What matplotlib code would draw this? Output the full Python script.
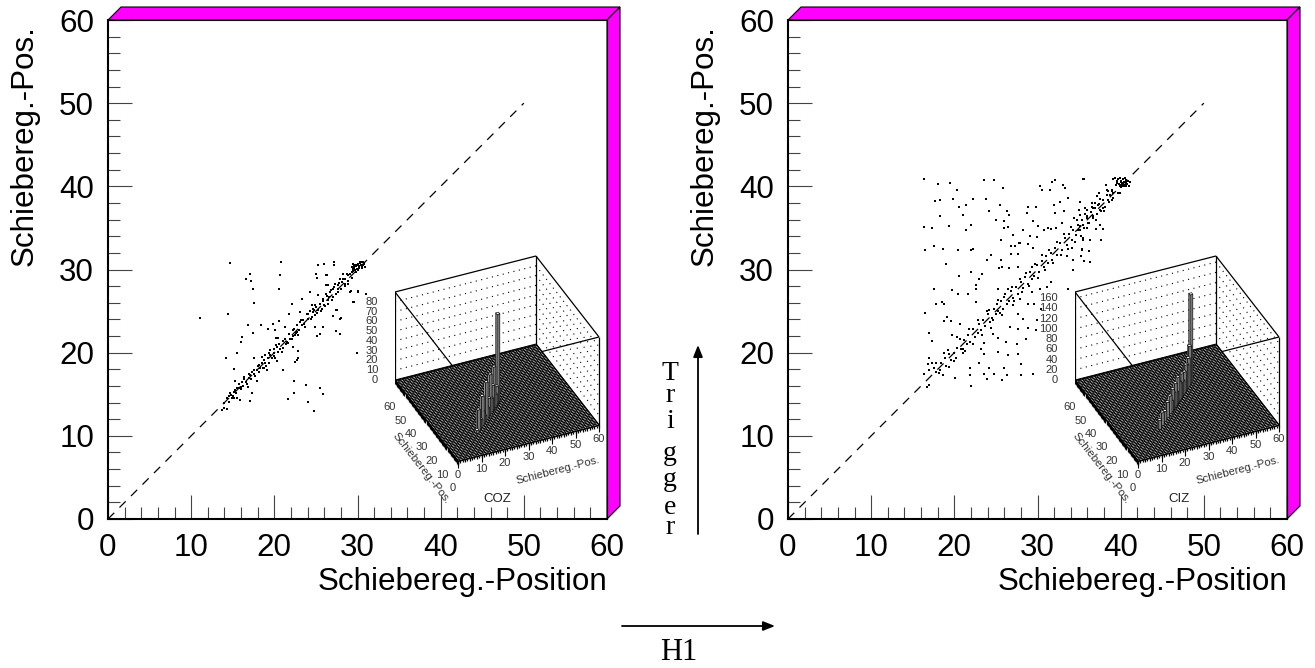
import numpy as np
import matplotlib
matplotlib.use('Agg')
import matplotlib.pyplot as plt
from matplotlib.collections import LineCollection, PolyCollection
from matplotlib.patches import FancyArrowPatch

plt.rcParams['font.family'] = ['Liberation Sans', 'DejaVu Sans']

W, H = 1315, 668

# Points (COZ)
coz_x = [14.7, 20.8, 25.2, 26.0, 27.2, 27.2, 17.1, 20.7, 16.6, 17.2, 17.4, 20.6, 25.0, 25.1, 26.2, 17.5, 22.1, 24.3,
         11.1, 14.4, 21.8, 16.8, 17.4, 18.4, 19.2, 19.8, 20.6, 20.1, 16.1, 16.0, 20.2, 20.5, 21.3, 14.2, 15.5, 17.5,
         15.1, 21.1, 22.8, 22.7, 22.4, 23.8, 25.5, 22.4, 25.9, 21.6, 24.1, 24.8, 29.9, 27.4, 27.9, 25.5, 25.1, 24.9,
         25.9, 27.1, 28.0, 29.6, 27.5, 29.2, 30.1, 31.0, 22.3,
         13.7, 14.3, 14.0, 13.9, 14.3, 14.6, 14.9, 14.8, 15.2, 15.5, 15.9, 15.1, 15.3, 15.7, 16.0, 15.5, 15.3, 16.1,
         16.3, 16.6, 16.9, 17.1, 17.3, 17.6, 17.9, 18.3, 18.5, 18.9, 19.3, 18.8, 19.1, 18.1, 18.5, 18.9, 19.5, 19.9,
         20.1, 20.3, 19.3, 19.5, 20.3, 20.7, 20.9, 20.2, 21.5, 21.9, 22.5, 22.7, 22.9, 21.3, 15.2, 22.9, 22.5, 17.1,
         17.3, 17.9, 16.8,
         22.3, 22.7, 23.1, 23.3, 23.7, 23.1, 24.1, 24.5, 24.9, 24.7, 25.3, 25.7, 24.5, 24.9, 26.1, 25.9, 26.5, 26.9,
         26.2, 26.7, 27.1, 26.5, 27.3, 27.7, 27.6, 28.1, 28.5, 28.9, 28.2, 28.9, 28.5, 27.9, 29.3, 29.5, 29.7, 30.1,
         30.5, 30.9, 29.9, 30.3, 30.7, 29.5, 30.1, 29.3, 25.3, 24.3, 23.3, 26.3, 26.2, 29.1, 30.1, 29.5, 27.9, 27.4,
         30.4, 30.2, 30.6, 30.8, 30.0, 29.8, 30.3, 30.5, 30.7, 29.6, 30.2, 30.4,
         14.5, 14.7, 15.0, 15.4, 15.8, 16.0, 16.2, 16.4, 16.7, 16.9, 17.2, 17.5, 17.7, 18.0, 18.2, 18.6, 18.7, 19.0,
         19.2, 19.7, 20.0, 20.0, 20.5, 20.6, 21.0, 21.1, 21.4, 21.7, 21.8, 22.1, 22.3, 22.4, 22.6, 23.0, 23.2, 23.4,
         23.6, 23.9, 24.0, 24.3, 24.4, 24.6, 24.8, 25.0, 25.1, 25.5, 25.6, 25.8, 26.0, 26.3, 26.4, 26.6, 26.8, 27.0,
         27.2, 27.4, 27.6, 27.8, 28.0, 28.3, 28.5, 28.7, 28.9, 29.1, 29.3, 29.5, 29.7, 29.9, 29.4, 29.6, 29.8]
coz_y = [30.8, 30.95, 30.5, 30.7, 30.9, 30.5, 29.5, 29.3, 28.9, 28.6, 27.7, 27.7, 29.5, 29.0, 29.3, 26.0, 25.9, 27.3,
         24.2, 24.6, 24.7, 23.3, 22.4, 23.3, 22.8, 23.5, 23.8, 22.7, 21.9, 21.3, 21.8, 21.8, 23.1, 19.3, 19.9, 19.3,
         18.0, 17.9, 19.4, 19.1, 16.6, 16.1, 15.8, 15.2, 15.0, 14.4, 14.1, 13.0, 19.9, 22.6, 22.3, 22.2, 22.0, 23.1,
         23.1, 24.4, 24.2, 26.1, 25.1, 27.4, 27.4, 27.1, 20.7,
         13.1, 13.2, 13.3, 13.9, 14.5, 14.8, 14.5, 14.9, 14.5, 14.5, 14.3, 15.3, 15.5, 15.7, 15.9, 15.8, 16.6, 16.5,
         17.1, 16.5, 16.9, 17.3, 17.7, 17.4, 17.9, 18.1, 18.7, 18.8, 18.7, 18.1, 17.9, 18.5, 19.5, 19.7, 19.7, 19.9,
         19.3, 19.0, 19.9, 20.3, 20.7, 20.5, 20.1, 20.9, 21.3, 21.7, 22.1, 22.5, 22.1, 21.7, 18.0, 20.2, 18.9, 14.2,
         15.1, 16.6, 15.9,
         22.7, 23.3, 23.7, 23.3, 23.1, 24.9, 24.7, 24.3, 24.5, 25.3, 25.1, 25.3, 25.7, 25.7, 25.6, 26.5, 26.3, 26.3,
         27.1, 27.3, 27.6, 28.1, 28.3, 27.3, 28.1, 28.5, 28.0, 28.3, 29.5, 29.3, 28.8, 28.8, 29.7, 30.1, 30.5, 30.7,
         30.5, 30.3, 30.1, 30.9, 30.9, 30.7, 29.9, 30.3, 26.9, 27.3, 26.5, 29.3, 28.1, 27.3, 27.3, 26.1, 24.1, 25.1,
         30.6, 30.4, 30.2, 30.7, 30.6, 30.4, 30.8, 30.3, 30.5, 30.2, 30.2, 30.9,
         14.1, 15.2, 14.8, 15.1, 16.2, 15.6, 16.0, 16.8, 16.2, 17.4, 16.8, 17.9, 17.2, 18.4, 17.7, 18.2, 19.1, 18.4,
         19.3, 19.4, 20.4, 19.6, 20.1, 21.0, 20.6, 21.4, 21.0, 21.2, 22.3, 21.6, 22.0, 22.9, 22.4, 22.7, 23.9, 23.9,
         23.4, 24.6, 24.0, 25.0, 24.1, 24.9, 25.1, 25.5, 24.8, 25.9, 25.0, 26.2, 25.7, 26.8, 25.9, 26.7, 27.5, 26.7,
         27.9, 27.0, 27.7, 28.4, 27.7, 28.8, 28.2, 29.4, 28.6, 29.5, 29.0, 29.8, 30.0, 30.6, 30.0, 30.4, 29.7]

# Points (CIZ)
ciz_x = [16.3, 18.0, 19.5, 20.3, 23.6, 24.8, 25.8, 30.3, 30.5, 31.5, 31.7, 32.1, 33.1, 33.3, 35.5, 17.7, 18.3, 19.8,
         22.3, 23.8, 21.4, 20.6, 25.5, 21.0, 18.3, 24.2, 26.3, 26.6, 28.8, 28.7, 29.8, 32.0, 32.7, 33.7, 32.1, 33.2,
         25.0, 26.0, 29.5, 16.3, 17.3, 19.4, 21.4, 22.0, 26.0, 26.4, 28.2, 30.1, 30.8, 31.3, 31.6, 32.2, 32.9, 27.1,
         25.6, 29.1, 29.9, 27.9, 16.5, 17.5, 18.6, 20.5, 22.0, 22.3, 26.8, 27.3, 27.8, 28.8, 29.4, 26.8, 27.6, 24.4,
         23.9, 25.6, 19.0, 22.0, 20.6, 23.3, 23.0, 22.6, 22.6, 25.3, 25.4, 25.7, 26.6, 27.7, 29.3, 17.6, 19.7, 20.4,
         21.6, 22.6, 17.8, 18.5, 18.8, 16.5, 19.1, 18.7, 19.6, 20.7, 16.9, 17.3, 19.7, 20.3, 21.0, 21.3, 17.0, 16.8,
         17.3, 16.3, 17.8, 18.6, 20.1, 22.0, 16.9, 16.7, 21.9, 21.9, 23.0, 24.2, 23.6, 23.9, 24.8, 26.0, 26.3, 25.7,
         28.0, 28.0, 29.5, 23.2, 23.6, 25.3, 26.5, 27.6, 23.6, 24.7, 25.3, 26.2, 27.5, 28.6, 26.7, 27.7, 28.9, 29.8,
         28.3, 29.9, 27.7, 28.8, 29.6, 30.4, 29.3, 27.9, 31.1, 31.6, 30.3, 33.5, 34.3, 35.3, 35.5, 34.3, 33.7,
         17.8, 17.0, 18.1, 18.4, 18.9, 19.0, 19.4, 19.6, 19.9, 20.2, 20.3, 20.8, 21.2, 21.5, 21.6, 21.9, 22.3, 22.5,
         22.8, 23.0, 23.2, 23.5, 23.7, 24.0, 24.3, 24.5, 24.8, 25.0, 25.3, 25.6, 25.8, 26.0, 26.3, 26.6, 26.8, 27.1,
         27.4, 27.7, 28.0, 28.3, 28.5, 28.8, 29.1, 29.3, 29.6, 29.9, 30.2, 30.5, 30.8, 31.0, 31.3, 31.6, 31.8, 32.1,
         32.4, 32.7, 33.0, 33.3, 33.5, 33.8, 34.1, 34.3, 34.6, 34.9, 35.1, 35.3, 35.6, 35.9, 36.2, 36.4, 36.7, 36.9,
         37.1, 37.4, 37.6, 37.9, 38.1, 38.4, 38.6, 38.9, 39.1,
         35.6, 38.2, 38.4, 38.9, 39.1, 39.7, 39.9, 38.7, 38.5, 38.9, 37.1, 37.4, 36.9, 36.5, 37.3, 36.7, 37.5, 37.9,
         35.1, 35.7, 35.9, 35.0, 34.4, 35.1, 35.3, 35.9, 36.1, 35.1, 35.5, 37.0, 37.9, 37.5, 36.7, 34.3, 34.9, 35.5,
         36.3, 37.6, 34.2, 35.3, 36.2, 35.2, 34.3, 35.6, 36.3,
         39.1, 39.3, 39.5, 39.7, 39.9, 40.1, 40.3, 40.5, 40.7, 40.9, 41.1, 39.4, 39.6, 39.8, 40.0, 40.2, 40.4, 40.6,
         40.8, 41.0, 40.3, 40.5, 40.1, 40.7, 40.2, 39.9, 40.6, 40.4, 40.0, 40.8,
         24.2, 25.1, 24.6, 26.1, 25.5, 26.9, 27.2, 27.9, 28.1, 28.6, 29.0, 29.7, 30.0, 30.6, 30.9, 31.4, 31.9, 32.3,
         32.8, 33.2, 33.7, 34.0, 34.5, 34.8, 35.2, 35.7, 36.0, 36.5, 37.0, 37.5, 38.0, 38.5, 19.2, 20.0, 20.7, 21.1,
         21.8, 22.2, 22.9, 23.3, 23.9, 24.4, 25.2, 25.7, 26.5, 27.0, 17.6, 18.3, 18.7, 19.3]
ciz_y = [40.9, 40.3, 40.4, 39.6, 40.8, 40.8, 39.8, 40.0, 39.6, 39.5, 40.5, 40.8, 40.2, 39.8, 40.9, 38.2, 38.4, 38.5,
         38.5, 38.5, 37.8, 37.5, 37.8, 36.5, 36.4, 37.0, 37.0, 36.6, 37.5, 36.8, 37.5, 37.8, 38.1, 38.6, 36.8, 37.0,
         36.0, 35.8, 35.8, 35.1, 35.0, 35.2, 34.8, 35.4, 35.0, 35.1, 34.7, 35.2, 34.7, 35.0, 34.9, 35.0, 35.6, 34.2,
         33.6, 34.0, 33.9, 33.2, 32.4, 32.8, 32.5, 32.4, 32.4, 32.5, 32.8, 32.8, 33.2, 33.1, 32.6, 31.9, 31.9, 31.8,
         31.2, 31.2, 30.7, 29.7, 29.2, 29.4, 28.9, 28.1, 27.6, 27.6, 30.2, 30.3, 30.2, 30.3, 30.3, 27.6, 27.5, 27.0,
         27.1, 26.1, 25.9, 26.1, 25.8, 24.8, 24.3, 23.8, 23.8, 23.5, 22.4, 21.4, 22.1, 21.9, 20.4, 20.2, 19.4, 18.6,
         18.7, 17.4, 17.7, 17.3, 17.0, 16.0, 16.1, 15.9, 18.2, 17.3, 18.8, 18.2, 17.4, 16.8, 17.4, 18.2, 17.3, 16.7,
         18.6, 17.3, 17.4, 20.4, 19.8, 20.1, 19.7, 19.8, 21.2, 22.3, 21.8, 21.3, 21.1, 21.6, 23.1, 22.9, 23.0, 22.7,
         24.0, 23.9, 24.7, 25.9, 25.9, 25.2, 27.3, 26.4, 27.9, 28.5, 27.6, 31.6, 31.2, 32.4, 33.6, 30.0, 27.7,
         18.8, 17.9, 17.5, 18.7, 19.3, 18.4, 19.8, 19.1, 20.0, 19.4, 20.6, 20.4, 21.5, 21.1, 22.1, 21.3, 22.8, 21.9,
         22.4, 23.5, 22.7, 23.9, 23.2, 24.6, 23.7, 24.2, 25.3, 24.6, 25.0, 26.2, 25.2, 26.7, 25.8, 26.2, 27.4, 26.6,
         27.9, 27.1, 28.5, 27.8, 29.1, 28.3, 29.7, 28.8, 29.2, 30.5, 29.7, 31.0, 30.3, 31.6, 30.8, 32.0, 31.2, 32.6,
         31.8, 33.2, 32.4, 33.8, 33.0, 34.3, 33.6, 34.8, 34.1, 35.4, 34.7, 35.9, 35.0, 36.4, 35.6, 36.9, 36.2, 37.4,
         36.7, 37.9, 37.0, 38.4, 37.5, 38.9, 38.1, 39.4, 38.6,
         40.9, 40.2, 39.6, 39.6, 39.2, 39.2, 39.2, 39.0, 38.4, 38.4, 38.8, 39.2, 38.0, 38.0, 37.8, 37.4, 37.2, 37.4,
         38.1, 37.4, 37.2, 37.1, 36.2, 36.6, 36.0, 36.2, 35.6, 35.2, 35.4, 34.9, 34.9, 35.4, 36.4, 34.8, 34.8, 33.8,
         33.6, 33.6, 32.6, 32.5, 32.2, 31.6, 31.2, 31.0, 30.9,
         40.9, 41.0, 40.6, 40.9, 41.0, 40.7, 40.9, 41.0, 40.8, 40.6, 40.5, 40.2, 40.4, 40.3, 40.5, 40.4, 40.5, 40.2,
         40.3, 40.1, 40.1, 40.0, 40.2, 40.0, 40.3, 40.1, 40.4, 40.2, 39.9, 40.6,
         25.1, 25.8, 23.9, 27.1, 24.8, 27.9, 26.2, 28.9, 27.3, 29.6, 28.0, 30.7, 29.0, 31.7, 29.9, 32.4, 30.8, 33.3,
         31.7, 34.3, 32.5, 35.1, 33.3, 35.9, 34.0, 36.7, 35.0, 37.5, 36.0, 38.5, 37.0, 39.4, 20.3, 19.0, 21.7, 20.0,
         22.9, 21.0, 23.9, 22.1, 25.0, 23.0, 26.3, 24.5, 27.6, 25.7, 18.1, 17.9, 20.0, 18.3]

# Lego heights along the diagonal of the insets
coz_bins = [14, 15, 16, 17, 18, 19, 20, 21, 22, 23, 24, 25, 26, 27, 28, 29, 30]
coz_counts = [3, 22, 10, 8, 30, 12, 6, 38, 10, 18, 40, 14, 25, 42, 12, 18, 90]
ciz_bins = [16, 18, 20, 22, 24, 25, 26, 27, 28, 29, 30, 31, 32, 33, 34, 35, 36, 37, 38, 39, 40]
ciz_counts = [18, 25, 20, 30, 35, 22, 40, 30, 44, 24, 48, 36, 30, 44, 26, 40, 50, 46, 55, 75, 172]
coz_zmax = 90
ciz_zmax = 172

x_ticks = [0, 10, 20, 30, 40, 50, 60]
y_ticks = [0, 10, 20, 30, 40, 50, 60]
px = 0.72  # points per pixel at dpi 100


def project(x, y, z, zscale):
    # floor corner (0,0) sits at (63,-71) in inset pixels, x and y run along the box edges
    return 63 + 2.35 * x - 1.05 * y, 0.6 * x + 1.35 * y - 71 + z * zscale


def draw_inset(left, bins, counts, zmax, zstep, name, name_x):
    inset = fig.add_axes([left / W, 1 - 480 / H, 235 / W, 230 / H])
    inset.set_xlim(0, 235)
    inset.set_ylim(-90, 140)
    inset.axis('off')
    inset.patch.set_alpha(0)
    zs = 88.0 / zmax
    P = lambda x, y, z=0: project(x, y, z, zs)

    # walls
    seg = [[P(0, 60, 0), P(0, 60, zmax)], [P(0, 60, zmax), P(60, 60, zmax)], [P(60, 60, 0), P(60, 60, zmax)],
           [P(60, 60, zmax), P(60, 0, zmax)], [P(60, 0, 0), P(60, 0, zmax)],
           [P(0, 60, zmax), P(0, 0, zmax)], [P(60, 0, zmax), P(0, 0, zmax)]]
    inset.add_collection(LineCollection(seg, colors='k', linewidths=0.9, zorder=1))
    dots = []
    for z in np.arange(zstep, zmax, zstep):
        dots.append([P(0, 60, z), P(60, 60, z)])
        dots.append([P(60, 60, z), P(60, 0, z)])
    inset.add_collection(LineCollection(dots, colors='k', linewidths=0.8, linestyles=[(0, (1, 4))], zorder=1))

    # floor
    inset.add_collection(PolyCollection([[P(0, 0), P(60, 0), P(60, 60), P(0, 60)]],
                                         facecolors='white', edgecolors='k', linewidths=0.8, zorder=2))
    grid = []
    for i in range(61):
        grid.append([P(i, 0), P(i, 60)])
        grid.append([P(0, i), P(60, i)])
    inset.add_collection(LineCollection(grid, colors='k', linewidths=0.68, zorder=3))

    # teeth along the two front edges
    teeth = []
    for i in range(61):
        a = P(i, 0)
        teeth.append([a, (a[0], a[1] - 2.5)])
        b = P(0, i)
        teeth.append([b, (b[0], b[1] - 4)])
    inset.add_collection(LineCollection(teeth, colors='k', linewidths=0.9, zorder=3))
    major = []
    for v in x_ticks:
        a = P(v, 0)
        major.append([a, (a[0], a[1] - 7)])
    inset.add_collection(LineCollection(major, colors='k', linewidths=0.8, zorder=3))

    # bars, back to front
    order = np.argsort(bins)[::-1]
    for k in order:
        b = bins[k]
        c = counts[k]
        w = 1.2
        front = [P(b, b, 0), P(b, b + w, 0), P(b, b + w, c), P(b, b, c)]
        side = [P(b, b, 0), P(b + w, b, 0), P(b + w, b, c), P(b, b, c)]
        top = [P(b, b, c), P(b + w, b, c), P(b + w, b + w, c), P(b, b + w, c)]
        inset.add_collection(PolyCollection([front, side, top], facecolors=['white', '#777777', 'white'],
                                             edgecolors='k', linewidths=0.45, zorder=4))

    # z axis
    zt = []
    for z in np.arange(0, zmax + 1, zstep / 5):
        p = P(0, 60, z)
        zt.append([p, (p[0] - 5, p[1])])
    inset.add_collection(LineCollection(zt, colors='k', linewidths=0.7, zorder=3))
    for z in np.arange(0, zmax, zstep):
        p = P(0, 60, z)
        inset.text(p[0] - 17, p[1], '%d' % z, ha='right', va='center', fontsize=8, color='#333333')

    # floor labels
    for v in x_ticks:
        p = P(v, 0)
        inset.text(p[0], p[1] - 14, str(v), ha='center', va='center', fontsize=8, color='#333333')
        p = P(0, v)
        inset.text(p[0] - 5, p[1] - 27, str(v), ha='center', va='center', fontsize=8, color='#333333')
    pc = P(30, 0)
    inset.text(pc[0] + 29, pc[1] - 27, 'Schiebereg.-Pos.', rotation=14.5, ha='center', va='center',
               fontsize=8.1, color='#333333', rotation_mode='anchor')
    pc = P(0, 30)
    inset.text(pc[0] - 5, pc[1] - 48, 'Schiebereg.-Pos.', rotation=-52, ha='center', va='center',
               fontsize=8.2, color='#333333', rotation_mode='anchor')
    inset.text(name_x, -90 + 14 - 33, name, ha='center', va='center', fontsize=9.5, color='#222222', clip_on=False)


def draw_panel(left, xs, ys):
    ax = fig.add_axes([left / W, 1 - 519 / H, 499 / W, 499 / H])
    ax.set_xlim(0, 60)
    ax.set_ylim(0, 60)
    d = 13 * 60 / 499
    # magenta box sides
    ax.fill([0, d, 60 + d, 60], [60, 60 + d, 60 + d, 60], facecolor='#ff00ff', edgecolor='k', lw=0.8, clip_on=False)
    ax.fill([60, 60 + d, 60 + d, 60], [60, 60 + d, d, 0], facecolor='#ff00ff', edgecolor='k', lw=0.8, clip_on=False)
    ax.plot([0, 50], [0, 50], color='k', lw=0.9, dashes=(7, 6))
    ax.scatter(xs, ys, s=1.3, c='k', marker='s', linewidths=0, zorder=3)
    ax.set_xticks(x_ticks)
    ax.set_yticks(y_ticks)
    ax.set_xticks(np.arange(0, 61, 2), minor=True)
    ax.set_yticks(np.arange(0, 61, 2), minor=True)
    ax.tick_params(which='major', direction='in', length=24 * px, width=0.8, color='#444444',
                   labelsize=22.6, pad=10)
    ax.tick_params(which='minor', direction='in', length=12 * px, width=0.8, color='#444444')
    ax.tick_params(axis='y', pad=10)
    for s in ['left', 'bottom']:
        ax.spines[s].set_linewidth(1.5)
    for s in ['top', 'right']:
        ax.spines[s].set_linewidth(0.8)
    fig.text((left + 499) / W, 1 - 590 / H, 'Schiebereg.-Position', ha='right', va='baseline', fontsize=22.6)
    fig.text((left - 83) / W, 1 - 146 / H, 'Schiebereg.-Pos.', rotation=90, ha='center', va='center', fontsize=22.6)
    return ax


fig = plt.figure(figsize=(W / 100, H / 100), dpi=100)
draw_panel(108, coz_x, coz_y)
draw_panel(788, ciz_x, ciz_y)
draw_inset(395, coz_bins, coz_counts, coz_zmax, 10, 'COZ', 102)
draw_inset(1075, ciz_bins, ciz_counts, ciz_zmax, 20, 'CIZ', 104)

# arrows and serif captions
serif = ['Liberation Serif', 'DejaVu Serif']
for letter, py in zip('Trigger', [374, 395, 421, 453, 480, 507, 528]):
    fig.text(670 / W, 1 - py / H, letter, ha='center', va='center', fontsize=20, family=serif)
fig.text(679 / W, 1 - 653 / H, 'H1', ha='center', va='center', fontsize=22, family=serif)
head = '-|>,head_length=0.5,head_width=0.2'
fig.add_artist(FancyArrowPatch((698 / W, 1 - 534 / H), (698 / W, 1 - 345 / H), transform=fig.transFigure,
                               mutation_scale=14, arrowstyle=head, color='k', lw=1.3, shrinkA=0, shrinkB=0))
fig.add_artist(FancyArrowPatch((622 / W, 1 - 626 / H), (775 / W, 1 - 626 / H), transform=fig.transFigure,
                               mutation_scale=14, arrowstyle=head, color='k', lw=1.3, shrinkA=0, shrinkB=0))

fig.savefig('out.png', dpi=100)
